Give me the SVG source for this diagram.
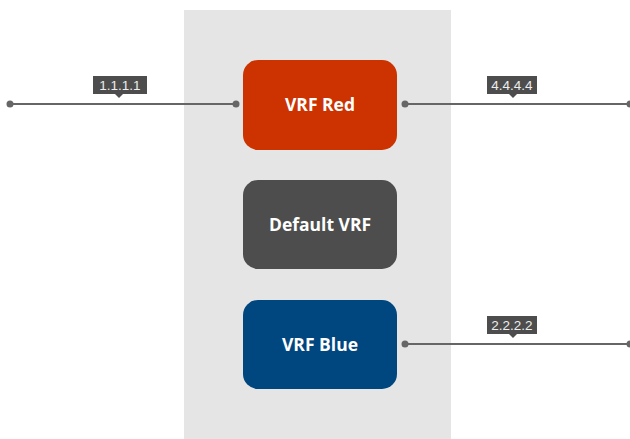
<svg xmlns="http://www.w3.org/2000/svg" width="630" height="439" viewBox="0 0 630 439">
<style>
.node-text{font-family:"Open Sans","Liberation Sans",sans-serif;font-weight:bold;font-size:17.5px;fill:#ffffff;text-anchor:middle}
.lbl-text{font-family:"Liberation Sans",Arial,sans-serif;font-size:13.5px;fill:#eeeeee;text-anchor:middle}
.lbl-bg{fill:#4d4d4d}
.conn{stroke:#666666;stroke-width:2;fill:none}
.dot{fill:#666666}
</style>
<rect width="630" height="439" fill="#ffffff"/>
<rect id="panel" x="184" y="10" width="267" height="429" fill="#e5e5e5"/>
<g id="connectors">
  <line class="conn" x1="10" y1="104" x2="236" y2="104"/>
  <circle class="dot" cx="10" cy="104" r="3.5"/>
  <circle class="dot" cx="236" cy="104" r="3.5"/>
  <line class="conn" x1="405" y1="104" x2="630" y2="104"/>
  <circle class="dot" cx="405" cy="104" r="3.5"/>
  <circle class="dot" cx="630" cy="104" r="3.5"/>
  <line class="conn" x1="405" y1="344" x2="630" y2="344"/>
  <circle class="dot" cx="405" cy="344" r="3.5"/>
  <circle class="dot" cx="630" cy="344" r="3.5"/>
  <g id="label-1111">
    <rect class="lbl-bg" x="93" y="76" width="54" height="18"/>
    <polygon class="lbl-bg" points="115,94 123,94 119,98"/>
    <text class="lbl-text" x="120" y="90">1.1.1.1</text>
  </g>
  <g id="label-4444">
    <rect class="lbl-bg" x="487" y="76" width="50" height="18"/>
    <polygon class="lbl-bg" points="509,94 517,94 513,98"/>
    <text class="lbl-text" x="512" y="90">4.4.4.4</text>
  </g>
  <g id="label-2222">
    <rect class="lbl-bg" x="487" y="316" width="50" height="18"/>
    <polygon class="lbl-bg" points="509,334 517,334 513,338"/>
    <text class="lbl-text" x="512" y="330">2.2.2.2</text>
  </g>
</g>
<g id="vrf-red">
  <rect x="243" y="60" width="154" height="90" rx="15" fill="#cc3300"/>
  <text class="node-text" x="320" y="111">VRF Red</text>
</g>
<g id="default-vrf">
  <rect x="243" y="180" width="154" height="89" rx="15" fill="#4d4d4d"/>
  <text class="node-text" x="320" y="231">Default VRF</text>
</g>
<g id="vrf-blue">
  <rect x="243" y="300" width="154" height="89" rx="15" fill="#00467f"/>
  <text class="node-text" x="320" y="351">VRF Blue</text>
</g>
</svg>
